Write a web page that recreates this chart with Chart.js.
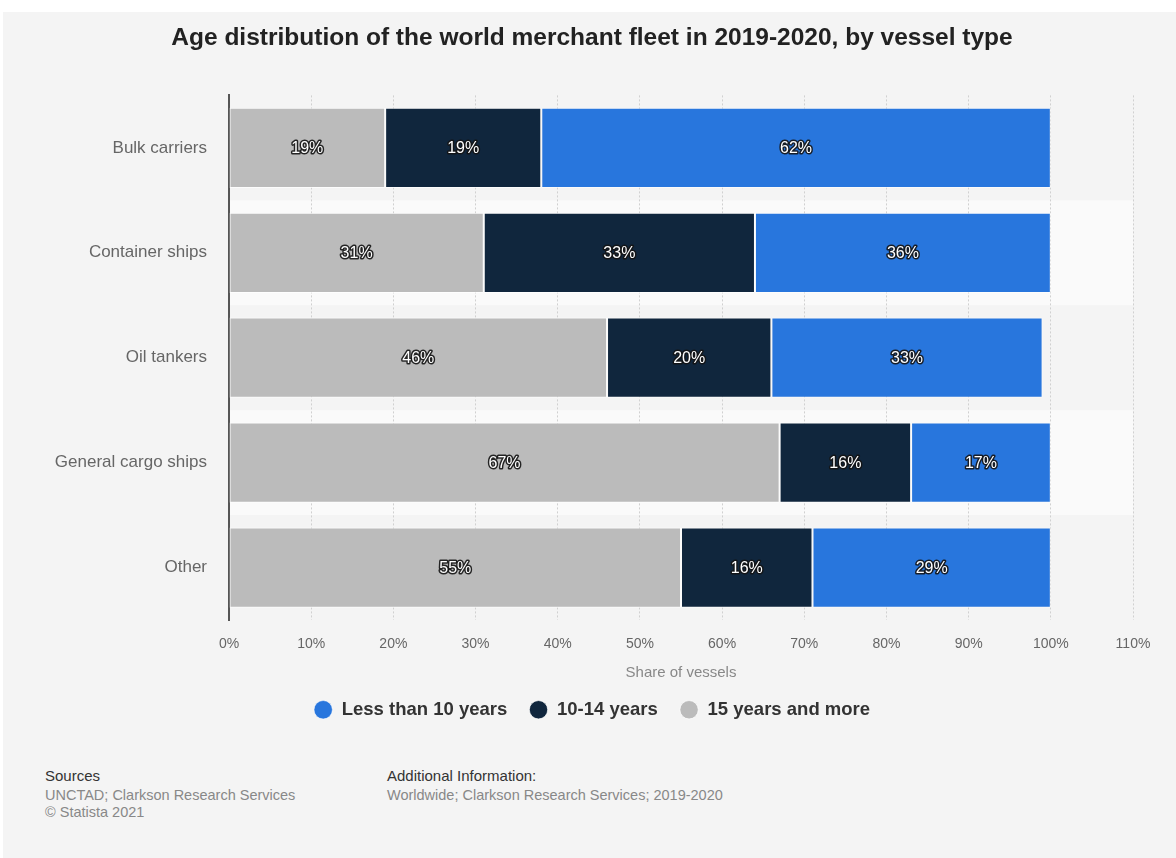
<!DOCTYPE html>
<html>
<head>
<meta charset="utf-8">
<script src="https://cdn.jsdelivr.net/npm/chart.js@4/dist/chart.umd.min.js"></script>
<style>
  html, body { margin:0; padding:0; background:#ffffff; width:1176px; height:858px; overflow:hidden; font-family:"Liberation Sans", Arial, sans-serif; }
  #bg { position:absolute; left:3px; top:12px; right:0; bottom:0; background:#f4f4f4; }
  #wrap { position:absolute; left:0; top:0; width:1176px; height:730px; }
  .foot { position:absolute; white-space:nowrap; }
  .h { font-size:15px; color:#333; }
  .g { font-size:14.5px; color:#888; }
</style>
</head>
<body>
<div id="bg"></div>
<div id="wrap"><canvas id="c"></canvas></div>
<div class="foot h" style="left:45px; top:767px;">Sources</div>
<div class="foot g" style="left:45px; top:787px;">UNCTAD; Clarkson Research Services</div>
<div class="foot g" style="left:45px; top:804px;">© Statista 2021</div>
<div class="foot h" style="left:387px; top:767px;">Additional Information:</div>
<div class="foot g" style="left:387px; top:787px;">Worldwide; Clarkson Research Services; 2019-2020</div>
<script>
const categories = ["Bulk carriers", "Container ships", "Oil tankers", "General cargo ships", "Other"];
const over15 = [19, 31, 46, 67, 55];
const y10to14 = [19, 33, 20, 16, 16];
const under10 = [62, 36, 33, 17, 29];
const xTicks = [0, 10, 20, 30, 40, 50, 60, 70, 80, 90, 100, 110];

const FONT = "'Liberation Sans', Arial, sans-serif";

const bandPlugin = {
  id: 'bands',
  beforeDraw(chart) {
    const {ctx, chartArea, scales} = chart;
    const y = scales.y;
    const step = (y.getPixelForValue(1) - y.getPixelForValue(0));
    ctx.save();
    ctx.fillStyle = '#fafafa';
    categories.forEach((c, i) => {
      if (i % 2 === 1) {
        const cy = y.getPixelForValue(i);
        ctx.fillRect(chartArea.left, cy - step / 2, chartArea.right - chartArea.left, step);
      }
    });
    ctx.restore();
  }
};

const labelPlugin = {
  id: 'barLabels',
  afterDatasetsDraw(chart) {
    const {ctx} = chart;
    ctx.save();
    ctx.font = "16px " + FONT;
    ctx.textAlign = 'center';
    ctx.textBaseline = 'middle';
    ctx.lineJoin = 'round';
    chart.data.datasets.forEach((ds, di) => {
      const meta = chart.getDatasetMeta(di);
      meta.data.forEach((el, i) => {
        const v = ds.data[i];
        const p = el.getCenterPoint();
        const t = v + '%';
        ctx.lineWidth = 3;
        ctx.strokeStyle = 'rgba(20,20,20,0.9)';
        ctx.strokeText(t, p.x, p.y + 1);
        ctx.fillStyle = '#ffffff';
        ctx.fillText(t, p.x, p.y + 1);
      });
    });
    ctx.restore();
  }
};

new Chart(document.getElementById('c'), {
  type: 'bar',
  data: {
    labels: categories,
    datasets: [
      { label: '15 years and more', data: over15, backgroundColor: '#bbbbbb', borderColor: 'rgba(255,255,255,0.7)', borderWidth: 1, borderSkipped: false },
      { label: '10-14 years', data: y10to14, backgroundColor: '#10263d', borderColor: 'rgba(255,255,255,0.7)', borderWidth: 1, borderSkipped: false },
      { label: 'Less than 10 years', data: under10, backgroundColor: '#2876dd', borderColor: 'rgba(255,255,255,0.5)', borderWidth: 1, borderSkipped: false }
    ]
  },
  options: {
    indexAxis: 'y',
    responsive: true,
    maintainAspectRatio: false,
    animation: false,
    layout: { padding: { left: 51, right: 43, top: 0, bottom: 1 } },
    datasets: { bar: { categoryPercentage: 1, barPercentage: 0.765 } },
    scales: {
      x: {
        stacked: true,
        min: 0, max: 110,
        afterBuildTicks(scale) { scale.ticks = xTicks.map(v => ({ value: v })); },
        afterFit(scale) { scale.height = 58.5; },
        ticks: { callback: v => v + '%', color: '#666', font: { family: FONT, size: 14 }, padding: 16, maxRotation: 0 },
        grid: { color: '#d0d0d0', drawTicks: false, lineWidth: 1 },
        border: { display: false, dash: [2, 2] },
        title: { display: true, text: 'Share of vessels', color: '#888', font: { family: FONT, size: 15 }, padding: { top: 4, bottom: -3 } }
      },
      y: {
        stacked: true,
        afterFit(scale) { scale.width = 178; },
        ticks: { color: '#666', font: { family: FONT, size: 17 }, padding: 22 },
        grid: { display: false, drawTicks: false },
        border: { display: true, color: '#555', width: 2 }
      }
    },
    plugins: {
      title: {
        display: true,
        text: 'Age distribution of the world merchant fleet in 2019-2020, by vessel type',
        color: '#222',
        font: { family: FONT, size: 24.5, weight: 'bold' },
        padding: { top: 24, bottom: 42 }
      },
      legend: {
        position: 'bottom',
        reverse: true,
        labels: {
          usePointStyle: true,
          pointStyle: 'circle',
          boxHeight: 13,
          color: '#333',
          font: { family: FONT, size: 18.5, weight: 'bold' },
          padding: 22
        }
      },
      tooltip: { enabled: false }
    }
  },
  plugins: [bandPlugin, labelPlugin]
});
</script>
</body>
</html>
